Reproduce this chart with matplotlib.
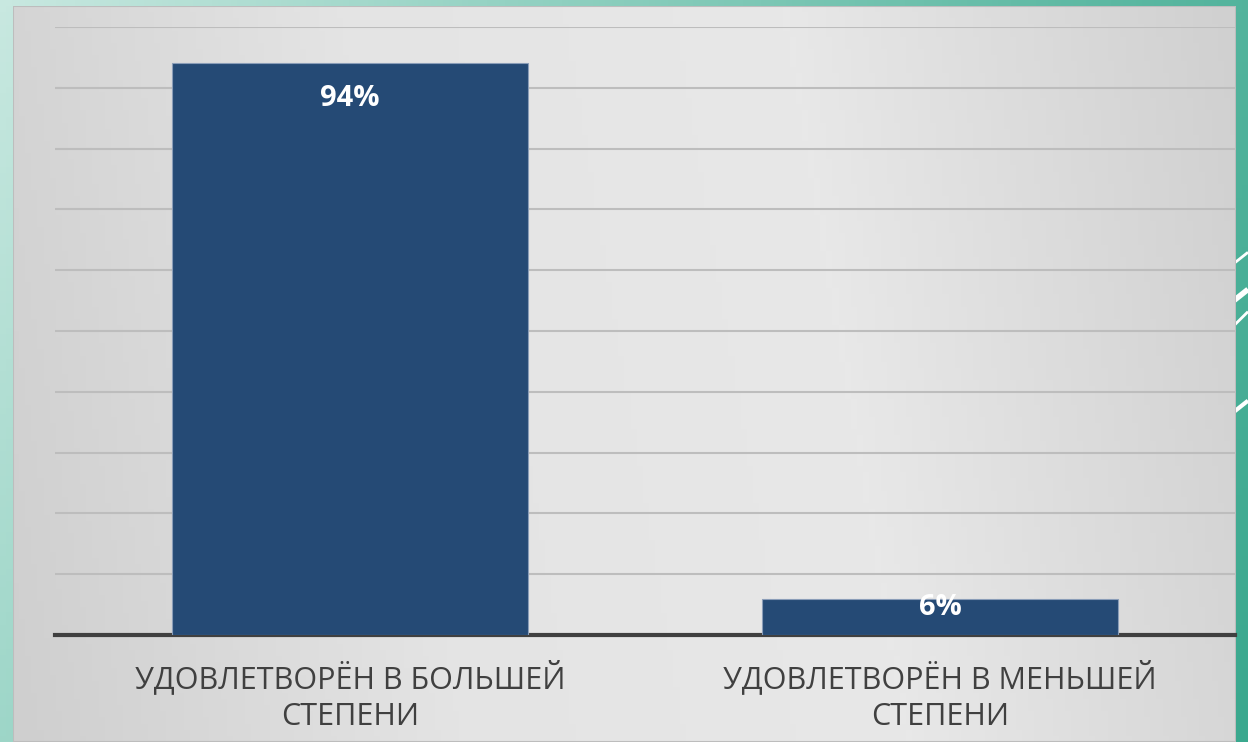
import numpy as np
import matplotlib
matplotlib.use("Agg")
import matplotlib.pyplot as plt
from matplotlib.colors import LinearSegmentedColormap

categories = ["УДОВЛЕТВОРЁН В БОЛЬШЕЙ\nСТЕПЕНИ", "УДОВЛЕТВОРЁН В МЕНЬШЕЙ\nСТЕПЕНИ"]
values = [94, 6]
labels = ["94%", "6%"]

BAR_C = "#254a75"
W, H = 1248, 742

fig = plt.figure(figsize=(W / 100, H / 100), dpi=100)

# teal slide background
bg = fig.add_axes([0, 0, 1, 1])
bg.set_axis_off()
teal = LinearSegmentedColormap.from_list("teal", ["#c8e8e0", "#8fd0c0", "#5cb8a2", "#3aa88e"])
gx, gy = np.meshgrid(np.linspace(0, 1, 200), np.linspace(0, 1, 120))
bg.imshow(0.75 * gx + 0.25 * gy, cmap=teal, aspect="auto", extent=[0, 1, 0, 1], origin="upper")
for x0, y0, x1, y1, lw in [(0.985, 0.64, 1.0, 0.66, 2), (0.985, 0.59, 1.0, 0.61, 4),
                           (0.985, 0.555, 1.0, 0.58, 2), (0.985, 0.44, 1.0, 0.46, 3)]:
    bg.plot([x0, x1], [y0, y1], color="white", lw=lw, solid_capstyle="butt")
bg.set_xlim(0, 1)
bg.set_ylim(0, 1)

# gray panel
panel = fig.add_axes([13 / W, 0, (1236 - 13) / W, (742 - 6) / H])
panel.set_axis_off()
gray = LinearSegmentedColormap.from_list("gray", ["#cfcfcf", "#e4e4e4", "#e8e8e8", "#d0d0d0"])
px, py = np.meshgrid(np.linspace(0, 1, 200), np.linspace(0, 1, 120))
panel.imshow(px - 0.1 * py, cmap=gray, aspect="auto", extent=[0, 1, 0, 1], origin="upper")
panel.add_patch(plt.Rectangle((0, 0), 1, 1, fill=False, ec="#bdbdbd", lw=1.5,
                              transform=panel.transAxes))

# chart
ax = fig.add_axes([55 / W, (742 - 635) / H, (1235 - 55) / W, 608 / H])
ax.patch.set_alpha(0)
x = np.arange(len(categories))
ax.bar(x, values, width=0.605, color=BAR_C, edgecolor="#8a9db8", linewidth=0.8, zorder=3)
ax.set_xlim(-0.5, 1.5)
ax.set_ylim(0, 100)
ax.set_yticks(np.arange(0, 101, 10))
ax.yaxis.grid(True, color="#bdbdbd", lw=1.5, zorder=0)
ax.tick_params(left=False, labelleft=False, bottom=False)
for s in ["top", "left", "right"]:
    ax.spines[s].set_visible(False)
ax.spines["bottom"].set_color("#404040")
ax.spines["bottom"].set_linewidth(3)
ax.set_xticks(x)
ax.set_xticklabels(categories, fontsize=22, color="#404040", family="Open Sans",
                   linespacing=1.3)
ax.tick_params(axis="x", pad=15)

for xi, v, lbl in zip(x, values, labels):
    y = v - 5.7 if v > 20 else v - 1.4
    ax.text(xi, y, lbl, ha="center", va="center", color="white", fontsize=21,
            fontweight="bold", family="Open Sans", zorder=4)

fig.savefig("out.png", dpi=100)
